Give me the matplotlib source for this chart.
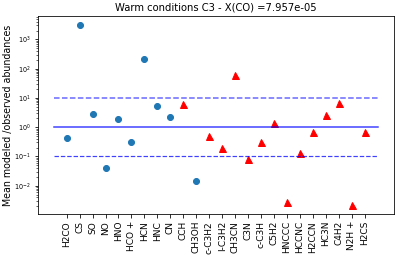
import matplotlib
matplotlib.use("Agg")
import matplotlib.pyplot as plt
import numpy as np

species = ["H2CO", "CS", "SO", "NO", "HNO", "HCO +", "HCN", "HNC", "CN", "CCH",
           "CH3OH", "c-C3H2", "l-C3H2", "CH3CN", "C3N", "c-C3H", "C5H2", "HNCCC",
           "HCCNC", "H2CCN", "HC3N", "C4H2", "N2H +", "H2CS"]
ratios = [0.42, 3100, 2.9, 0.039, 1.86, 0.32, 207, 5.3, 2.2, 6.0,
          0.015, 0.50, 0.19, 62, 0.081, 0.30, 1.37, 0.0027,
          0.13, 0.71, 2.6, 6.6, 0.0022, 0.71]
# True -> blue circle, False -> red triangle
circle = [True, True, True, True, True, True, True, True, True, False,
          True, False, False, False, False, False, False, False,
          False, False, False, False, False, False]
title = "Warm conditions C3 - X(CO) =7.957e-05"

x = np.arange(len(species))
ratios = np.array(ratios)
circle = np.array(circle)

fig = plt.figure(figsize=(399 / 72, 259 / 72), dpi=72)
ax = fig.add_axes([0.094, 0.174, 0.893, 0.764])

ax.plot(x[circle], ratios[circle], "o", color="#1f77b4", markersize=6)
ax.plot(x[~circle], ratios[~circle], "^", color="red", markersize=7)

span = [-1, len(species)]
ax.plot(span, [1, 1], "-", color="b", alpha=0.75, lw=1.5)
ax.plot(span, [10, 10], "--", color="b", alpha=0.6, lw=1.5)
ax.plot(span, [0.1, 0.1], "--", color="b", alpha=0.75, lw=1.2)

ax.set_yscale("log")
ax.set_xticks(x)
ax.set_xticklabels(species, rotation=90, fontsize=9)
ax.tick_params(axis="y", labelsize=6.5)
ax.set_ylabel("Mean modeled /observed abundances", fontsize=9.5)
ax.yaxis.set_label_coords(-0.07, 0.5)
ax.set_title(title, fontsize=10)

fig.savefig("out.png", dpi=72)
